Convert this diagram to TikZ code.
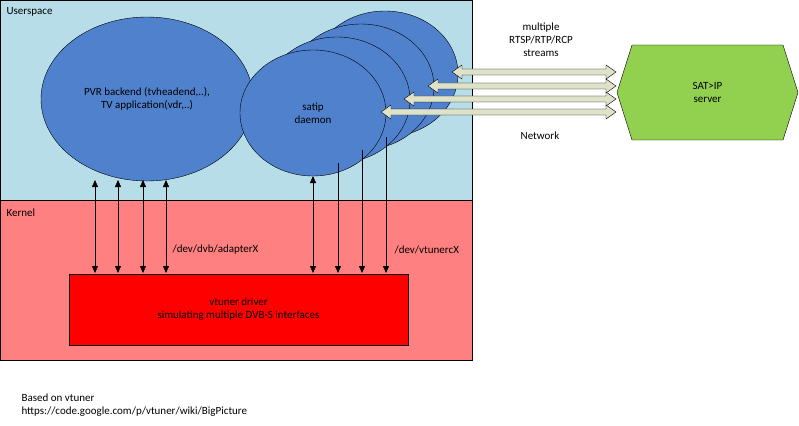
\documentclass[tikz,border=0pt]{standalone}
\usepackage{fontspec}
\setmainfont{Carlito}
\usetikzlibrary{shapes.geometric,arrows.meta}
\definecolor{usr}{RGB}{182,221,232}
\definecolor{krn}{RGB}{255,128,128}
\definecolor{ell}{RGB}{79,129,205}
\definecolor{hex}{RGB}{146,208,80}
\definecolor{beige}{RGB}{221,226,200}
\tikzset{
 every node/.style={font=\fontsize{11}{13}\selectfont},
 ell/.style={ellipse,draw=black,fill=ell,minimum width=146pt,minimum height=126pt,inner sep=0,align=center},
 ar/.style={-{Triangle[length=7pt,width=6pt]}},
 bar/.style={{Triangle[length=7pt,width=6pt]}-{Triangle[length=7pt,width=6pt]}},
 net/.style={draw=black,fill=beige},
}
\begin{document}
\begin{tikzpicture}[x=1pt,y=-1pt]
\useasboundingbox (0,0) rectangle (799,425);
\draw[fill=usr] (0,0) rectangle (472,200);
\draw[fill=krn] (0,200) rectangle (472,360);
\node[anchor=west] (us) at (3,12) {Userspace};
\node[anchor=west] (ke) at (3,213) {Kernel};
\node[ellipse,draw=black,fill=ell,minimum width=212pt,minimum height=164pt,align=center] (pvr) at (147,99) {PVR backend (tvheadend,..),\\TV application(vdr,..)};
\node[ell] (s4) at (385,74) {};
\node[ell] (s3) at (361,87) {};
\node[ell] (s2) at (337,100) {};
\node[ell] (s1) at (313,113) {satip\\daemon};
\node[draw=black,fill=red,minimum width=339pt,minimum height=71pt,align=center] (drv) at (238.5,309.5) {vtuner driver\\simulating multiple DVB-S interfaces};
\draw[fill=hex] (617,92.5) -- (632,45) -- (783,45) -- (798,92.5) -- (783,140) -- (632,140) -- cycle;
\node[align=center] (sat) at (707.5,92.5) {SAT>IP\\server};
\foreach \x in {95,118,143,166}{
 \coordinate (a\x) at (\x,180); \coordinate (b\x) at (\x,273);
 \draw[bar] (a\x) -- (b\x);}
\coordinate (c1) at (313,176); \coordinate (d1) at (313,273);
\draw[bar] (c1) -- (d1);
\coordinate (c2) at (338,163); \coordinate (d2) at (338,273);
\coordinate (c3) at (362,150); \coordinate (d3) at (362,273);
\coordinate (c4) at (386,137); \coordinate (d4) at (386,273);
\foreach \i in {2,3,4}{\draw[ar] (c\i) -- (d\i);}
\node[anchor=west] (dvb) at (169,250) {/dev/dvb/adapterX};
\node[anchor=west] (vtc) at (391,250) {/dev/vtunercX};
\foreach \y/\l in {72/452,86/428,99/404,112/381}{
 \coordinate (l\y) at (\l,\y); \coordinate (r\y) at (616,\y);
 \draw[net] (l\y) -- ([shift={(10,-7)}]l\y) -- ([shift={(10,-3)}]l\y) -- ([shift={(-10,-3)}]r\y) -- ([shift={(-10,-7)}]r\y) -- (r\y) -- ([shift={(-10,7)}]r\y) -- ([shift={(-10,3)}]r\y) -- ([shift={(10,3)}]l\y) -- ([shift={(10,7)}]l\y) -- cycle;}
\node[align=center] (ms) at (541,40) {multiple\\RTSP/RTP/RCP\\streams};
\node (nw) at (540,136) {Network};
\node[anchor=west,align=left] (bo) at (18,405) {Based on vtuner\\https://code.google.com/p/vtuner/wiki/BigPicture};
\end{tikzpicture}
\end{document}
